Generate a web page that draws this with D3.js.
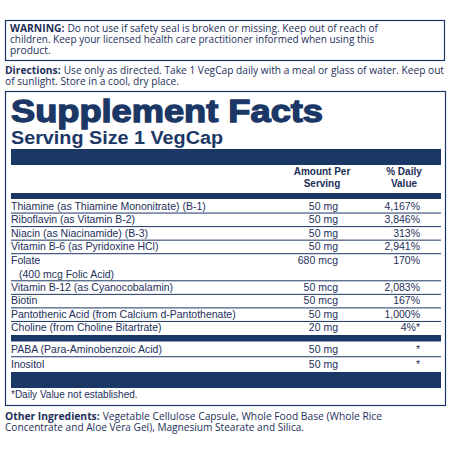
<!DOCTYPE html>
<html><head><meta charset="utf-8">
<script src="https://cdn.jsdelivr.net/npm/d3@7"></script>
<style>body{margin:0;background:#fff}</style></head><body>
<script>
const nutrients = ["Thiamine (as Thiamine Mononitrate) (B-1)","Riboflavin (as Vitamin B-2)","Niacin (as Niacinamide) (B-3)","Vitamin B-6 (as Pyridoxine HCl)","Folate","Vitamin B-12 (as Cyanocobalamin)","Biotin","Pantothenic Acid (from Calcium d-Pantothenate)","Choline (from Choline Bitartrate)"];
const subLines = ["","","","","(400 mcg Folic Acid)","","","",""];
const amounts = ["50 mg","50 mg","50 mg","50 mg","680 mcg","50 mcg","50 mcg","50 mg","20 mg"];
const dailyValues = ["4,167%","3,846%","313%","2,941%","170%","2,083%","167%","1,000%","4%*"];
const others = ["PABA (Para-Aminobenzoic Acid)","Inositol"];
const otherAmounts = ["50 mg","50 mg"];
const otherDV = ["*","*"];

const navy="#1b3765", txt="#1d2f5a";
const svg=d3.select("body").append("svg").attr("width",450).attr("height",450);
const bold="'Liberation Sans',Arial,sans-serif";
const narrow="'Liberation Sans Narrow','Arial Narrow','Liberation Sans',sans-serif";
function t(x,y,s,o={}){const e=svg.append("text").attr("x",x).attr("y",y).text(s).attr("fill",txt)
 .attr("font-family",o.f||"'Open Sans',sans-serif").attr("font-size",o.s||10.5).attr("font-weight",o.w||"normal").attr("text-anchor",o.a||"start");if(o.l)e.attr("textLength",o.l).attr("lengthAdjust","spacingAndGlyphs");return e;}
function rect(x,y,w,h,fill){svg.append("rect").attr("x",x).attr("y",y).attr("width",w).attr("height",h).attr("fill",fill);}
function lead(x,y,b,rest,s,endX){const e=t(x,y,b,{s:s,w:"bold"});const w=e.node().getComputedTextLength();
  const r=t(x+w+3,y,rest,{s:s});if(endX)r.attr("textLength",endX-(x+w+3)).attr("lengthAdjust","spacingAndGlyphs");}

svg.append("rect").attr("x",5.5).attr("y",20.5).attr("width",439).attr("height",40).attr("fill","none").attr("stroke",navy).attr("stroke-width",1.2);
lead(10,32,"WARNING:","Do not use if safety seal is broken or missing. Keep out of reach of",10.3,378);
t(10,43,"children. Keep your licensed health care practitioner informed when using this",{s:10.3,l:364});
t(10,54,"product.",{s:10.3});
lead(5,74,"Directions:","Use only as directed. Take 1 VegCap daily with a meal or glass of water.  Keep out",10.3,444);
t(5,85,"of sunlight. Store in a cool, dry place.",{s:10.3,l:174});

svg.append("rect").attr("x",5.5).attr("y",91.5).attr("width",440).attr("height",314).attr("fill","none").attr("stroke",navy).attr("stroke-width",1.2);
t(11,122,"Supplement Facts",{f:bold,w:"900",s:31,l:312}).attr("fill",navy).attr("stroke",navy).attr("stroke-width",1.3);
t(11,144,"Serving Size 1 VegCap",{f:bold,w:"bold",s:17.5,l:212}).attr("fill",navy);
rect(11,149,430,16,navy);
t(322,175,"Amount Per",{f:narrow,w:"bold",s:10,a:"middle"});
t(322,187,"Serving",{f:narrow,w:"bold",s:10,a:"middle"});
t(404,175,"% Daily",{f:narrow,w:"bold",s:10,a:"middle"});
t(404,187,"Value",{f:narrow,w:"bold",s:10,a:"middle"});
rect(11,193,430,6,navy);

const units=nutrients.map((d,i)=>subLines[i]?2:1);
const starts=[];let acc=0;units.forEach(u=>{starts.push(acc);acc+=u;});
const y=d3.scaleLinear().domain([0,acc]).range([199.5,335]);
nutrients.forEach((n,i)=>{
  const top=y(starts[i]);
  t(11,top+10,n,{f:narrow,s:10.5});
  if(subLines[i]) t(19,top+24,subLines[i],{f:narrow,s:10.5});
  t(338,top+10,amounts[i],{f:narrow,s:10.5,a:"end"});
  t(420,top+10,dailyValues[i],{f:narrow,s:10.5,a:"end"});
  if(i<nutrients.length-1) rect(11,y(starts[i]+units[i])-0.5,430,1,navy);
});
rect(11,335,430,6.5,navy);
const y2=d3.scaleLinear().domain([0,others.length]).range([341.5,372]);
others.forEach((n,i)=>{
  const top=y2(i);
  t(11,top+11,n,{f:narrow,s:10.5});
  t(338,top+11,otherAmounts[i],{f:narrow,s:10.5,a:"end"});
  t(420,top+11,otherDV[i],{f:narrow,s:10.5,a:"end"});
  if(i<others.length-1) rect(11,y2(i+1)-0.5,430,1,navy);
});
rect(11,372,430,16,navy);
t(11,398,"*Daily Value not established.",{f:narrow,s:10});

lead(5,420,"Other Ingredients:","Vegetable Cellulose Capsule, Whole Food Base (Whole Rice",10.3,382);
t(5,431,"Concentrate and Aloe Vera Gel), Magnesium Stearate and Silica.",{s:10.3,l:299});
</script></body></html>
